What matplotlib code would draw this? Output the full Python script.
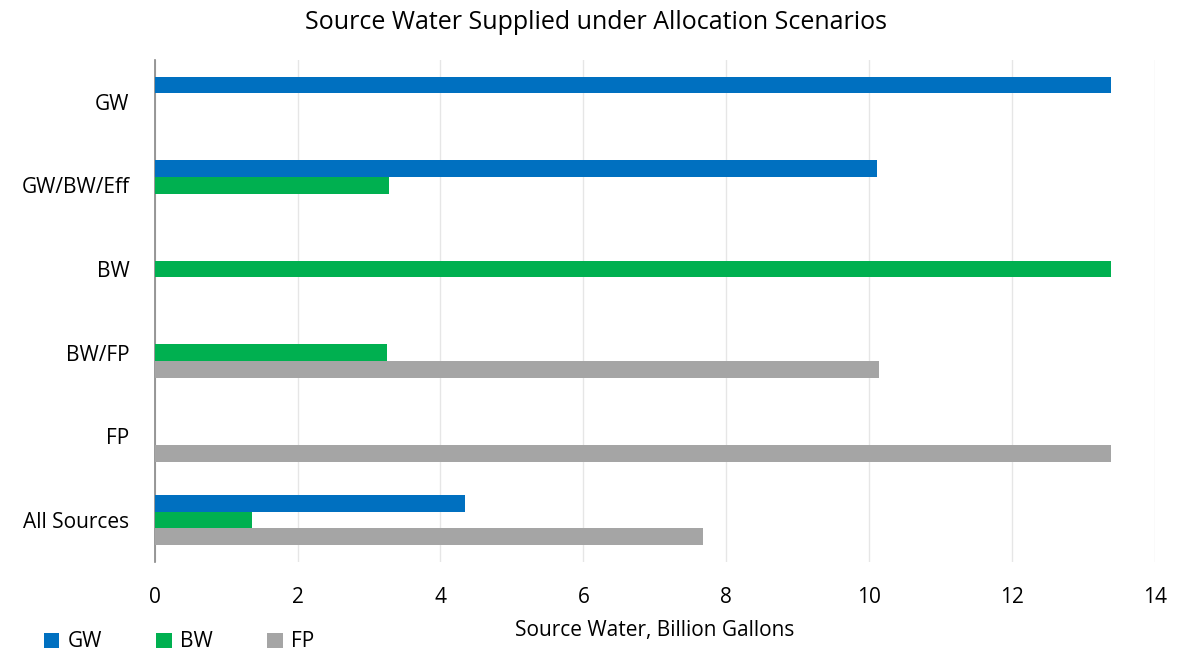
import numpy as np
import matplotlib
matplotlib.use("Agg")
import matplotlib.pyplot as plt

plt.rcParams['font.family'] = ['Open Sans', 'DejaVu Sans']

categories = ["GW", "GW/BW/Eff", "BW", "BW/FP", "FP", "All Sources"]
gw = [13.38, 10.11, 0, 0, 0, 4.35]
bw = [0, 3.28, 13.38, 3.25, 0, 1.37]
fp = [0, 0, 0, 10.14, 13.38, 7.67]
xticks = [0, 2, 4, 6, 8, 10, 12, 14]

fig = plt.figure(figsize=(11.8, 6.58), dpi=100)
ax = fig.add_axes([0.131, 0.146, 0.848, 0.763])

# top category first
y = np.arange(len(categories))[::-1]
h = 0.2
ax.barh(y + h, gw, height=h, color="#0070C0", label="GW", zorder=3)
ax.barh(y, bw, height=h, color="#00B050", label="BW", zorder=3)
ax.barh(y - h, fp, height=h, color="#A5A5A5", label="FP", zorder=3)

ax.set_ylim(-0.5, len(categories) - 0.5)
ax.set_xlim(0, 14)
ax.set_yticks(y)
ax.set_yticklabels(categories, fontsize=15)
ax.set_xticks(xticks)
ax.set_xticklabels([str(t) for t in xticks], fontsize=15)
ax.tick_params(axis="y", length=0, pad=18)
ax.tick_params(axis="x", length=0, pad=18)

ax.xaxis.grid(color="#E6E6E6", linewidth=1, zorder=0)
for s in ["top", "right", "bottom"]:
    ax.spines[s].set_visible(False)
ax.spines["left"].set_color("#868686")
ax.spines["left"].set_linewidth(1.2)

fig.suptitle("Source Water Supplied under Allocation Scenarios", fontsize=18,
             x=0.505, y=0.985)
ax.set_xlabel("Source Water, Billion Gallons", fontsize=15, labelpad=9)

fig.legend(loc="lower left", bbox_to_anchor=(0.021, -0.02), ncol=3, frameon=False,
           fontsize=15, handlelength=0.75, handleheight=0.75, columnspacing=2.6,
           handletextpad=0.4)

fig.savefig("out.png", dpi=100)
